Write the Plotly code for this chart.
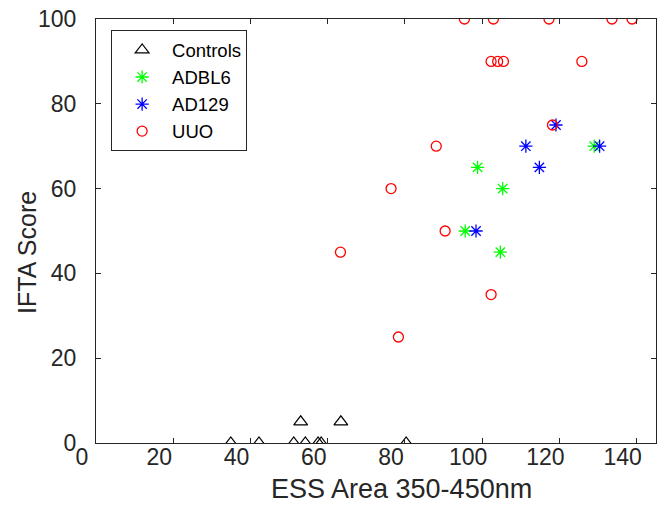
import plotly.graph_objects as go

# Controls (triangles)
controls_x = [34.9, 42.2, 51.2, 54.2, 57.5, 58.3, 80.3, 53.0, 63.4]
controls_y = [0, 0, 0, 0, 0, 0, 0, 5, 5]

# ADBL6 (green asterisks)
adbl6_x = [98.8, 105.3, 95.6, 104.7, 129.0]
adbl6_y = [65, 60, 50, 45, 70]

# AD129 (blue asterisks)
ad129_x = [119.1, 111.3, 114.8, 98.4, 130.4]
ad129_y = [75, 70, 65, 50, 70]

# UUO (red circles)
uuo_x = [95.4, 102.9, 117.3, 133.6, 138.8,
         102.3, 104.0, 105.5, 125.8,
         118.2, 88.1, 76.4, 90.4, 63.3, 102.3, 78.3]
uuo_y = [100, 100, 100, 100, 100,
         90, 90, 90, 90,
         75, 70, 60, 50, 45, 35, 25]

x_ticks = [0, 20, 40, 60, 80, 100, 120, 140]
y_ticks = [0, 20, 40, 60, 80, 100]

x_title = "ESS Area 350-450nm"
y_title = "IFTA Score"

FONT = "Liberation Sans, Arial, sans-serif"
AX = "#262626"

fig = go.Figure()
fig.add_trace(go.Scatter(x=controls_x, y=controls_y, mode="markers", name="Controls",
                         marker=dict(symbol="triangle-up-open", size=12, color="black",
                                     line=dict(width=1.2, color="black"))))
fig.add_trace(go.Scatter(x=adbl6_x, y=adbl6_y, mode="markers", name="ADBL6",
                         marker=dict(symbol="asterisk-open", size=11, color="#00ff00",
                                     line=dict(width=1.3, color="#00ff00"))))
fig.add_trace(go.Scatter(x=ad129_x, y=ad129_y, mode="markers", name="AD129",
                         marker=dict(symbol="asterisk-open", size=11, color="#0000ff",
                                     line=dict(width=1.3, color="#0000ff"))))
fig.add_trace(go.Scatter(x=uuo_x, y=uuo_y, mode="markers", name="UUO",
                         marker=dict(symbol="circle-open", size=10, color="#ff0000",
                                     line=dict(width=1.3, color="#ff0000"))))

fig.update_layout(
    width=661, height=505,
    margin=dict(l=96, r=5, t=19, b=62, autoexpand=False),
    paper_bgcolor="white", plot_bgcolor="white",
    font=dict(family=FONT, color=AX),
    showlegend=True,
    legend=dict(x=0.027, y=0.973, xanchor="left", yanchor="top",
                bordercolor=AX, borderwidth=1, bgcolor="white",
                font=dict(size=18.5, family=FONT, color="black"),
                itemwidth=50, tracegroupgap=0),
    xaxis=dict(range=[0, 145], tickvals=x_ticks, ticktext=[str(v) for v in x_ticks],
               ticks="inside", ticklen=5, tickcolor=AX, showgrid=False, zeroline=False,
               showline=True, linecolor=AX, linewidth=1, mirror="ticks", automargin=False,
               tickfont=dict(size=23, family=FONT, color=AX),
               ticklabelshift=-14, ticklabelstandoff=-7),
    yaxis=dict(range=[0, 100], tickvals=y_ticks, ticktext=[str(v) for v in y_ticks],
               ticks="inside", ticklen=5, tickcolor=AX, showgrid=False, zeroline=False,
               showline=True, linecolor=AX, linewidth=1, mirror="ticks", automargin=False,
               tickfont=dict(size=23, family=FONT, color=AX),
               ticklabelstandoff=14),
    annotations=[
        dict(text=x_title, xref="paper", yref="paper", x=(401 - 96) / 560, y=(443 - 489) / 424,
             xanchor="center", yanchor="middle", showarrow=False,
             font=dict(size=27, family=FONT, color=AX)),
        dict(text=y_title, xref="paper", yref="paper", x=(27 - 96) / 560, y=(443 - 253) / 424,
             xanchor="center", yanchor="middle", showarrow=False, textangle=-90,
             font=dict(size=25, family=FONT, color=AX)),
    ],
)

fig.write_html("out.html", config={"displayModeBar": False},
               post_script="document.body.style.margin='0';document.body.style.overflow='hidden';")
